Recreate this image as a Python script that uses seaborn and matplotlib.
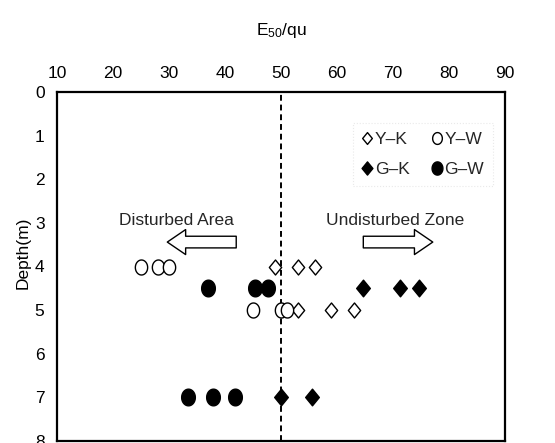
import numpy as np
import pandas as pd
import matplotlib
matplotlib.use("Agg")
import matplotlib.pyplot as plt
from matplotlib.path import Path
from matplotlib.lines import Line2D
import seaborn as sns

# ---- data ----
yk_x = [49, 53, 56, 53, 59, 63]
yk_depth = [4, 4, 4, 5, 5, 5]
yw_x = [25, 28, 30, 45, 50, 51]
yw_depth = [4, 4, 4, 5, 5, 5]
gk_x = [64.7, 71.3, 74.6, 50, 55.6]
gk_depth = [4.5, 4.5, 4.5, 7, 7]
gw_x = [37, 45.4, 47.7, 33.4, 37.9, 41.7]
gw_depth = [4.5, 4.5, 4.5, 7, 7, 7]
labels = ["Y\u2013K", "Y\u2013W", "G\u2013K", "G\u2013W"]
x_ticks = [10, 20, 30, 40, 50, 60, 70, 80, 90]
y_ticks = [0, 1, 2, 3, 4, 5, 6, 7, 8]

sns.set_theme(style="white")
plt.rcParams["font.family"] = ["Liberation Sans", "DejaVu Sans"]
plt.rcParams["mathtext.fontset"] = "custom"
plt.rcParams["mathtext.rm"] = "Liberation Sans"

# elliptical / stretched markers as in the reference
t = np.linspace(0, 2 * np.pi, 60)
ellipse = Path(np.column_stack([0.41 * np.cos(t), 0.5 * np.sin(t)]), closed=True)
diamond = Path([(0, 0.5), (0.41, 0), (0, -0.5), (-0.41, 0), (0, 0.5)], closed=True)

fig = plt.figure(figsize=(5.55, 4.43), dpi=100)
ax = fig.add_axes([57 / 555, 1 - 441 / 443, 448 / 555, 349 / 443])

fs = 12.5
groups = [
    (yk_x, yk_depth, diamond, "white", 10.8),
    (yw_x, yw_depth, ellipse, "white", 10.8),
    (gk_x, gk_depth, diamond, "black", 12.0),
    (gw_x, gw_depth, ellipse, "black", 12.0),
]
for (xs, ds, mk, fc, ms), lab in zip(groups, labels):
    df = pd.DataFrame({"x": xs, "depth": ds})
    sns.scatterplot(data=df, x="x", y="depth", ax=ax, marker=mk, s=ms ** 2,
                    facecolor=fc, edgecolor="black", linewidth=1.0, zorder=3)

ax.axvline(50, color="black", ls=(0, (3, 2)), lw=1.4, zorder=2)

ax.set_xlim(10, 90)
ax.set_ylim(8, 0)
ax.set_xticks(x_ticks)
ax.set_yticks(y_ticks)
ax.xaxis.tick_top()
ax.xaxis.set_label_position("top")
ax.tick_params(axis="both", length=0, labelsize=fs, colors="black")
ax.tick_params(axis="x", pad=8)
ax.tick_params(axis="y", pad=9)
ax.set_xlabel(r"E$\mathregular{_{50}}$/qu", fontsize=fs, labelpad=22, color="black")
ax.set_ylabel("Depth(m)", fontsize=fs, color="black")
ax.yaxis.set_label_coords(-0.058, 0.54)
for sp in ax.spines.values():
    sp.set_color("black")
    sp.set_linewidth(1.6)
    sp.set_visible(True)

# arrows and annotation texts
arrow_kw = dict(arrowstyle="simple,head_length=1.1,head_width=1.5,tail_width=0.7",
                fc="white", ec="black", lw=1.0, mutation_scale=12)
ax.annotate("", xy=(29.2, 3.44), xytext=(42.5, 3.44), arrowprops=arrow_kw)
ax.annotate("", xy=(77.6, 3.44), xytext=(64.2, 3.44), arrowprops=arrow_kw)
ax.text(31.3, 2.95, "Disturbed Area", fontsize=fs, ha="center", va="center")
ax.text(70.3, 2.95, "Undisturbed Zone", fontsize=fs, ha="center", va="center")

# legend
handles = [
    Line2D([], [], ls="none", marker=diamond, ms=8.5, mfc="white", mec="black", mew=1.0),
    Line2D([], [], ls="none", marker=ellipse, ms=8.5, mfc="white", mec="black", mew=1.0),
    Line2D([], [], ls="none", marker=diamond, ms=9.5, mfc="black", mec="black", mew=1.0),
    Line2D([], [], ls="none", marker=ellipse, ms=9.5, mfc="black", mec="black", mew=1.0),
]
order = [0, 2, 1, 3]
leg = ax.legend([handles[i] for i in order], [labels[i] for i in order], ncol=2,
                loc="upper left", bbox_to_anchor=(0.642, 0.935), fontsize=fs,
                handlelength=0.6, handletextpad=0.15, columnspacing=1.25,
                labelspacing=0.85, borderpad=0.5, frameon=True, fancybox=False)
leg.get_frame().set_edgecolor("#e4e4e4")
leg.get_frame().set_linestyle(":")
leg.get_frame().set_linewidth(0.8)

fig.savefig("out.png", dpi=100)
